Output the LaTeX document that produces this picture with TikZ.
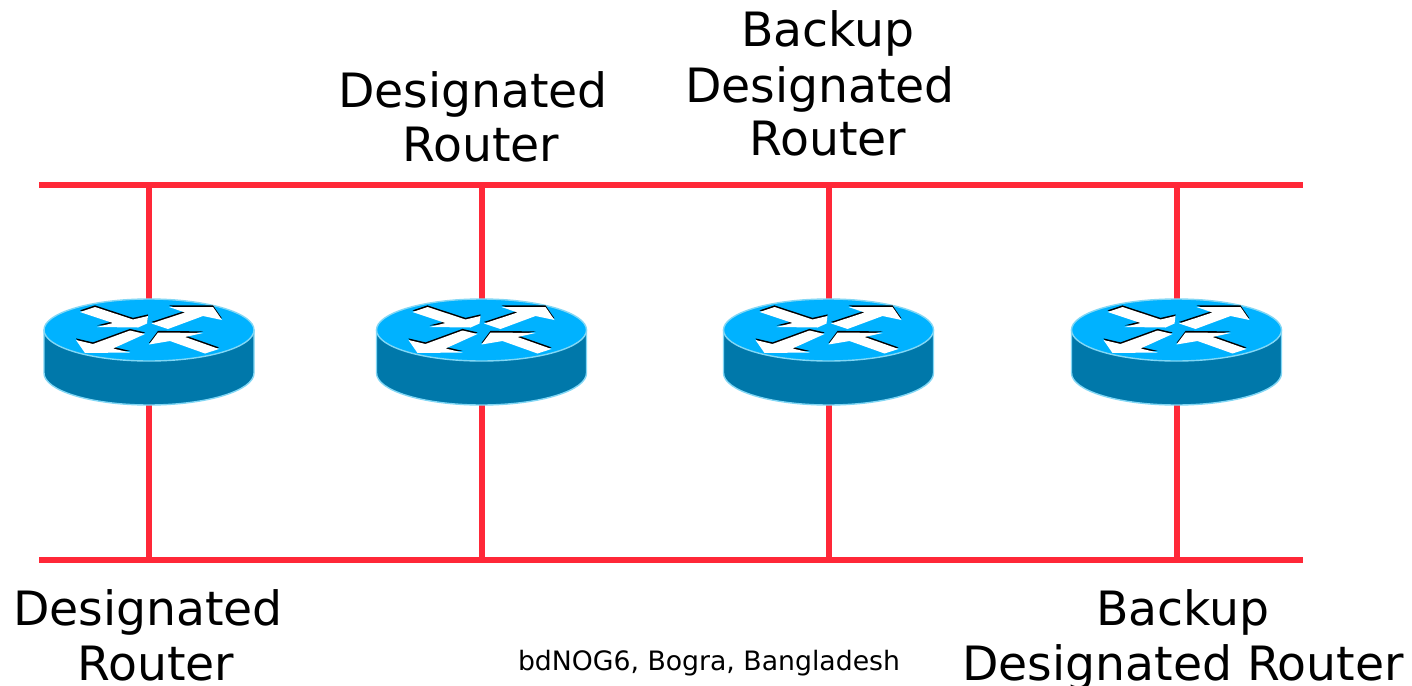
\documentclass[tikz,border=0pt]{standalone}
\usepackage{fontspec}
\setmainfont{DejaVu Sans}
\definecolor{busred}{RGB}{255,40,56}
\definecolor{rtop}{RGB}{0,178,255}
\definecolor{rside}{RGB}{0,120,170}
\definecolor{redge}{RGB}{130,215,245}
\tikzset{
  bus/.style={draw=busred,line width=6pt},
  lab/.style={anchor=base,inner sep=0pt,font=\fontsize{47.3}{47.3}\selectfont},
  foot/.style={anchor=base,inner sep=0pt,font=\fontsize{26.7}{26.7}\selectfont},
  routerbox/.style={minimum width=210pt,minimum height=106pt,inner sep=0pt,outer sep=0pt},
  router/.pic={
    \path[fill=rside,draw=redge,line width=1.4pt] (-105,-22) -- (-105,21)
       arc[start angle=180,end angle=0,x radius=105,y radius=32] -- (105,-22) -- cycle;
    \path[fill=rtop,draw=redge,line width=1.4pt] (0,-22) ellipse[x radius=105,y radius=31];
    \foreach \dy/\col in {-1.6/black,0/white}{
      \fill[\col,shift={(0,\dy)}] (-69,-40) -- (-54,-45) -- (-16,-32.5) -- (-1,-36) -- (-2,-28.5) -- (-11,-24.5) -- (-52,-25) -- (-36,-29) -- cycle;
      \fill[\col,shift={(0,\dy)}] (2.5,-28.5) -- (36,-39.5) -- (20,-45) -- (64,-45) -- (73,-32) -- (54,-36) -- (19,-23) -- cycle;
      \fill[\col,shift={(0,\dy)}] (-4,-18) -- (-19,-21.5) -- (-56,-8) -- (-73,-12) -- (-64,1) -- (-19,0.5) -- (-36,-3.5) -- cycle;
      \fill[\col,shift={(0,\dy)}] (0,-7.5) -- (9,-19.5) -- (54,-19) -- (36,-15) -- (70,-3) -- (56,1.5) -- (21,-11) -- cycle;
    }
  }
}
\begin{document}
\begin{tikzpicture}[x=1pt,y=-1pt]
\useasboundingbox (0,0) rectangle (1412,685);
\clip (0,0) rectangle (1412,685);
\fill[white] (0,0) rectangle (1412,685);
% routers (anchors)
\node[routerbox] (r1) at (149,352) {};
\node[routerbox] (r2) at (481.5,352) {};
\node[routerbox] (r3) at (828.5,352) {};
\node[routerbox] (r4) at (1176.5,352) {};
% bus end points and taps
\coordinate (tl) at (39,185); \coordinate (tr) at (1303,185);
\coordinate (bl) at (39,559.5); \coordinate (br) at (1303,559.5);
\draw[bus] (tl) -- (tr);
\draw[bus] (bl) -- (br);
\foreach \r in {r1,r2,r3,r4}{
  \draw[bus] (\r.center) -- (\r.center |- tl);
  \draw[bus] (\r.center) -- (\r.center |- bl);
  \pic at (\r) {router};
}
% labels
\node[lab] (a1) at (473,107) {Designated};
\node[lab] (a2) at (481,161) {Router};
\node[lab] (b1) at (828,47) {Backup};
\node[lab] (b2) at (820,102) {Designated};
\node[lab] (b3) at (828,155) {Router};
\node[lab] (c1) at (148,625) {Designated};
\node[lab] (c2) at (156,680) {Router};
\node[lab] (d1) at (1183,625) {Backup};
\node[lab] (d2) at (1183,680) {Designated Router};
\node[foot] (f) at (709,670) {bdNOG6, Bogra, Bangladesh};
\end{tikzpicture}
\end{document}
